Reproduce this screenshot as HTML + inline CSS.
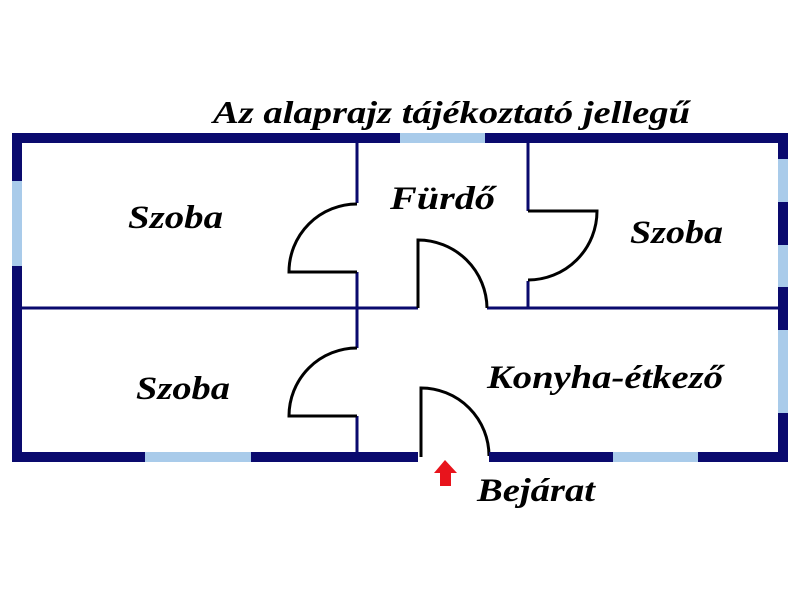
<!DOCTYPE html>
<html><head><meta charset="utf-8"><style>html,body{margin:0;padding:0;background:#fff}svg{display:block}
.t{font-family:"Liberation Serif","Times New Roman",serif;font-weight:bold;font-style:italic;fill:#000}</style></head>
<body>
<svg width="800" height="600" viewBox="0 0 800 600" xmlns="http://www.w3.org/2000/svg">
<g class="t">
<text x="213" y="123" font-size="32" textLength="477" lengthAdjust="spacingAndGlyphs">Az alaprajz tájékoztató jellegű</text>
<text x="128" y="228" font-size="33" textLength="95" lengthAdjust="spacingAndGlyphs">Szoba</text>
<text x="390" y="209" font-size="33" textLength="105" lengthAdjust="spacingAndGlyphs">Fürdő</text>
<text x="630" y="243" font-size="33" textLength="93" lengthAdjust="spacingAndGlyphs">Szoba</text>
<text x="136" y="399" font-size="33" textLength="94" lengthAdjust="spacingAndGlyphs">Szoba</text>
<text x="487" y="388" font-size="33" textLength="236" lengthAdjust="spacingAndGlyphs">Konyha-étkező</text>
<text x="477" y="501" font-size="33" textLength="118" lengthAdjust="spacingAndGlyphs">Bejárat</text>
</g>
<g stroke="#0a0a6e" stroke-width="3" fill="none">
<line x1="17" y1="308" x2="418" y2="308"/>
<line x1="487" y1="308" x2="783" y2="308"/>
<line x1="357" y1="138" x2="357" y2="203"/>
<line x1="357" y1="272" x2="357" y2="348"/>
<line x1="357" y1="416" x2="357" y2="457"/>
<line x1="528" y1="138" x2="528" y2="211"/>
<line x1="528" y1="281" x2="528" y2="308"/>
</g>
<g stroke="#000" stroke-width="3" fill="none">
<path d="M357 272 H289 A68 68 0 0 1 357 204"/>
<path d="M357 416 H289 A68 68 0 0 1 357 348"/>
<path d="M528 211 H597 A69 69 0 0 1 528 280"/>
<path d="M418 308 V240 A69 69 0 0 1 487 308"/>
<path d="M421 457 V388 A68 68 0 0 1 489 456"/>
</g>
<g fill="#0a0a6e">
<rect x="12" y="133" width="776" height="10"/>
<rect x="12" y="452" width="406" height="10"/>
<rect x="489" y="452" width="299" height="10"/>
<rect x="12" y="133" width="10" height="329"/>
<rect x="778" y="133" width="10" height="329"/>
</g>
<g fill="#a9cbea">
<rect x="12" y="181" width="10" height="85"/>
<rect x="145" y="452" width="106" height="10"/>
<rect x="400" y="133" width="85" height="10"/>
<rect x="778" y="159" width="10" height="43"/>
<rect x="778" y="245" width="10" height="42"/>
<rect x="778" y="330" width="10" height="83"/>
<rect x="613" y="452" width="85" height="10"/>
</g>
<path d="M445 460 L457 473 L451 473 L451 486 L440 486 L440 473 L434 473 Z" fill="#e8141c"/>
</svg>
</body></html>
